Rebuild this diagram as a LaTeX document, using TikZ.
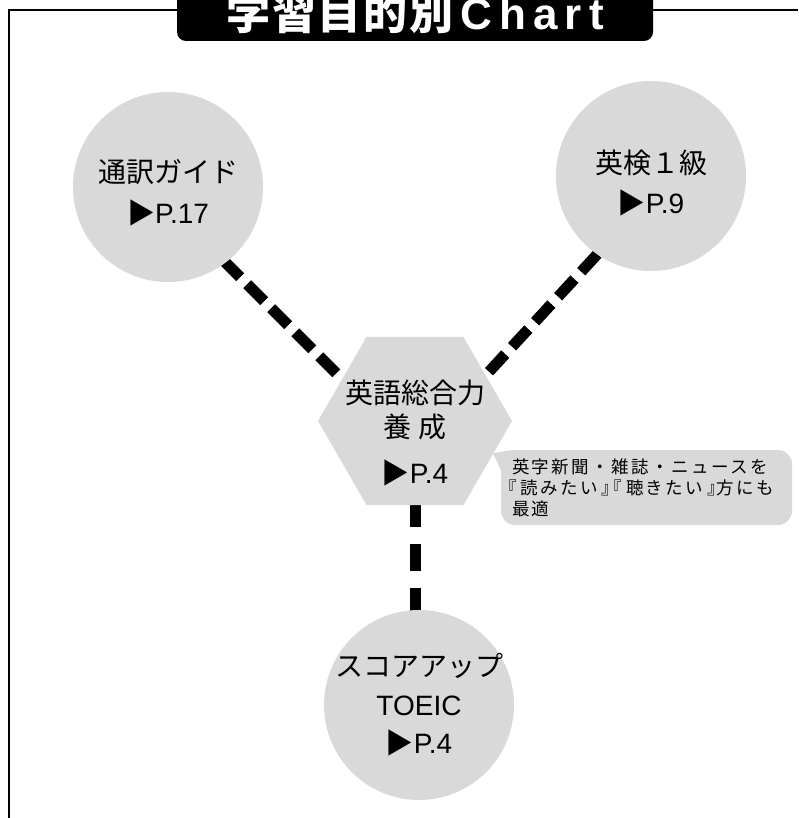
\documentclass[tikz,border=0pt]{standalone}
\usepackage{fontspec}
\setmainfont{Liberation Sans}
\newfontfamily\jp{Noto Sans CJK JP}
\newfontfamily\titlejp[LetterSpace=4]{Noto Sans CJK JP}
\newfontfamily\titlelat[LetterSpace=16]{Liberation Sans}
\newfontfamily\notejp[LetterSpace=14]{Noto Sans CJK JP}
\newfontfamily\notebr[LetterSpace=14, RawFeature=+palt]{Noto Sans CJK JP}
\newcommand{\bopen}{{\notebr 『\kern4pt}}
\newcommand{\bclose}{{\notebr\kern4pt 』}}
\usetikzlibrary{shapes.geometric, backgrounds}
\definecolor{bubblegray}{RGB}{217,217,217}

\begin{document}
\begin{tikzpicture}[x=1pt, y=-1pt,
    goal/.style={circle, fill=bubblegray, minimum size=190pt, inner sep=0pt},
    hexa/.style={regular polygon, regular polygon sides=6, fill=bubblegray, minimum size=194pt, inner sep=0pt},
    shapetext/.style={align=center, inner sep=0pt, font=\fontsize{28}{40}\selectfont},
    link/.style={line width=11pt, dash pattern=on 24pt off 10pt},
    drop/.style={line width=11pt, dash pattern=on 27pt off 17pt},
    note/.style={rectangle, rounded corners=14pt, fill=bubblegray, minimum width=291pt, minimum height=75pt, text width=269pt, inner sep=0pt, align=left, font=\fontsize{17.5}{21}\notejp}]

    \useasboundingbox (0,0) rectangle (798,818);

    % Frame round the chart
    \draw[line width=1.3pt] (9,818) -- (9,10) -- (798,10);

    % Title bar
    \node[fill=black, text=white, rounded corners=9pt, minimum width=476pt, text height=45pt, text depth=11pt, inner sep=0pt, anchor=base, font=\fontsize{44}{44}\bfseries] (title) at (415,30) {{\titlejp 学習目的別}\,{\titlelat Chart}};

    % Circles for each goal
    \node[goal, label={[shapetext, yshift=-6pt]center:{{\jp 通訳ガイド}\\[1pt]{\jp ▶}P.17}}] (guide) at (168,187) {};
    \node[goal, label={[shapetext, yshift=-7pt]center:{{\jp 英検１級}\\{\jp ▶}P.9}}] (eiken) at (651,176) {};
    \node[goal, label={[shapetext]center:{{\jp スコアアップ}\\[-1.5pt]TOEIC\\[-1.5pt]{\jp ▶}P.4}}] (toeic) at (419,705) {};

    % Hexagon in the middle
    \node[hexa, label={[shapetext, yshift=-12pt, font=\fontsize{28}{34}\selectfont]center:{{\jp 英語総合力}\\{\jp 養 成}\\[12pt]{\jp ▶}P.4}}] (hub) at (415,421) {};

    % Dashed links behind the shapes
    \begin{pgfonlayer}{background}
        \draw[link, dash phase=24pt] ([yshift=-18pt]guide.center) -- ([yshift=-31pt]hub.center);
        \draw[link, dash phase=23pt] ([yshift=-20pt]eiken.center) -- ([yshift=-31pt]hub.center);
        \draw[drop, dash phase=40pt] ([yshift=-31pt]hub.center) -- (hub.center |- toeic.center);
    \end{pgfonlayer}

    % Note beside the hexagon
    \node[note] (note) at (646.5,487.5) {英字新聞・雑誌・ニュースを\\\hspace*{-4pt}\bopen 読みたい\bclose\bopen 聴きたい\bclose 方にも\\最適};
    \coordinate (notetip) at (493,453);
    \fill[bubblegray] (notetip) -- ([xshift=14pt]note.north west) -- ([yshift=-20pt]note.north west) -- cycle;
\end{tikzpicture}
\end{document}
